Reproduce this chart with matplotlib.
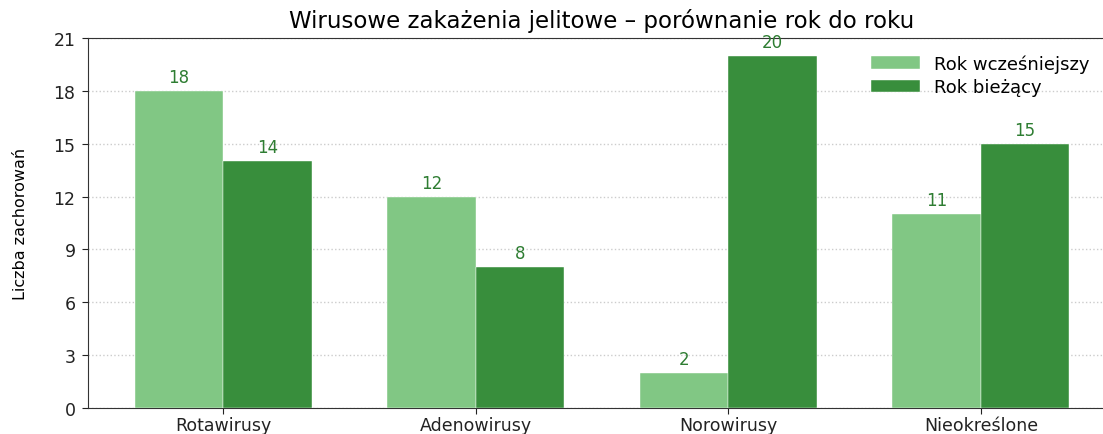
import matplotlib
matplotlib.use('Agg')
import matplotlib.pyplot as plt
import numpy as np

# dane
kategorie = ['Rotawirusy', 'Adenowirusy', 'Norowirusy', 'Nieokreślone']
rok_wczesniejszy = [18, 12, 2, 11]
rok_biezacy = [14, 8, 20, 15]
serie = ['Rok wcześniejszy', 'Rok bieżący']
yticki = [0, 3, 6, 9, 12, 15, 18, 21]

plt.rcParams['font.family'] = ['DejaVu Sans']

fig = plt.figure(figsize=(11.03, 4.35), dpi=100)
# prawa krawedz osi wychodzi poza obraz, jak w oryginale
ax = fig.add_axes([88 / 1103, 26 / 435, 1028 / 1103, 370 / 435])

x = np.arange(len(kategorie))
szer = 0.35
b1 = ax.bar(x - szer / 2, rok_wczesniejszy, szer, color='#81c784', label=serie[0],
            edgecolor='white', linewidth=0.3, zorder=3)
b2 = ax.bar(x + szer / 2, rok_biezacy, szer, color='#388e3c', label=serie[1],
            edgecolor='white', linewidth=0.3, zorder=3)

ax.bar_label(b1, padding=3.5, color='#2e7d32', fontsize=12)
ax.bar_label(b2, padding=3.5, color='#2e7d32', fontsize=12)

ax.set_xlim(-0.535, 3.535)
ax.set_ylim(0, 21)
ax.set_yticks(yticki)
ax.set_xticks(x)
ax.set_xticklabels(kategorie)
ax.tick_params(labelsize=12.5, length=4, colors='#222222')
ax.tick_params(axis='x', pad=2)
ax.tick_params(axis='y', pad=5)
ax.grid(axis='y', linestyle=':', color='#cccccc', linewidth=1, zorder=0)

for s in ['left', 'bottom', 'top']:
    ax.spines[s].set_color('#333333')
ax.spines['right'].set_visible(False)

ax.set_ylabel('Liczba zachorowań', fontsize=11.5, labelpad=18)
ax.set_title('Wirusowe zakażenia jelitowe – porównanie rok do roku', fontsize=16.5, pad=8)
ax.legend(loc='upper right', frameon=False, fontsize=13, handlelength=2.7,
          labelspacing=0.3, bbox_to_anchor=(0.99, 1.0))

fig.savefig('out.png', dpi=100)
